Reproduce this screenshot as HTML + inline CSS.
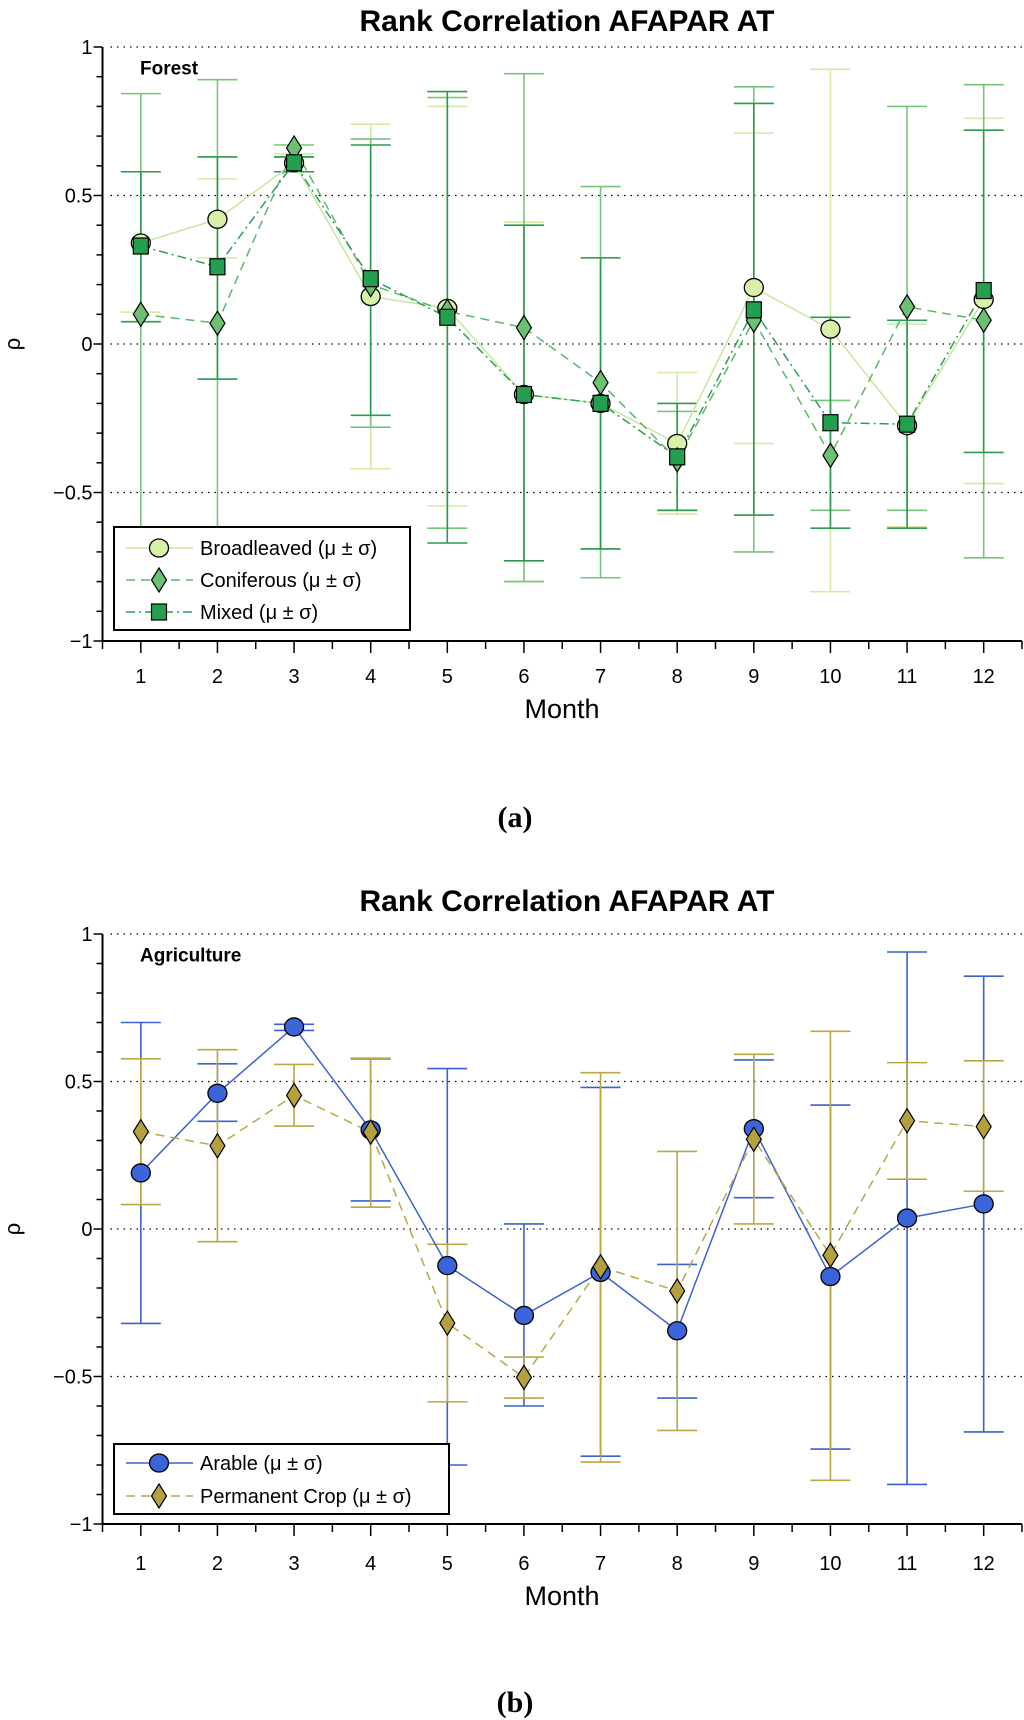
<!DOCTYPE html>
<html><head><meta charset="utf-8"><style>
html,body{margin:0;padding:0;background:#fff;}
svg{display:block;font-family:"Liberation Sans",sans-serif;}
</style></head><body>
<svg id="fig" width="1024" height="1720" viewBox="0 0 1024 1720" xmlns="http://www.w3.org/2000/svg"></svg>
<script>
const months = [1,2,3,4,5,6,7,8,9,10,11,12];
const yTicks = [-1,-0.5,0,0.5,1];
const yTickLabels = ["\u22121","\u22120.5","0","0.5","1"];
// Forest
const broadMean = [0.34,0.42,0.61,0.16,0.12,-0.17,-0.20,-0.335,0.19,0.05,-0.275,0.15];
const broadHi   = [0.58,0.556,0.64,0.74,0.80,0.41,0.29,-0.096,0.71,0.925,0.067,0.76];
const broadLo   = [0.107,0.29,0.58,-0.42,-0.545,-0.80,-0.69,-0.573,-0.335,-0.834,-0.616,-0.47];
const conMean = [0.10,0.07,0.66,0.20,0.11,0.055,-0.13,-0.39,0.08,-0.375,0.125,0.08];
const conHi   = [0.843,0.89,0.67,0.69,0.83,0.91,0.53,-0.227,0.866,-0.19,0.80,0.873];
const conLo   = [-0.65,-0.75,0.63,-0.28,-0.62,-0.80,-0.787,-0.56,-0.70,-0.56,-0.56,-0.72];
const mixMean = [0.33,0.26,0.61,0.22,0.09,-0.17,-0.20,-0.38,0.115,-0.265,-0.27,0.18];
const mixHi   = [0.58,0.63,0.63,0.67,0.85,0.40,0.29,-0.20,0.81,0.09,0.08,0.72];
const mixLo   = [0.075,-0.118,0.58,-0.24,-0.67,-0.73,-0.69,-0.56,-0.576,-0.62,-0.62,-0.365];
// Agriculture
const arMean = [0.19,0.46,0.685,0.336,-0.124,-0.293,-0.147,-0.345,0.34,-0.161,0.037,0.085];
const arHi   = [0.70,0.56,0.694,0.577,0.544,0.017,0.48,-0.12,0.573,0.42,0.939,0.857];
const arLo   = [-0.32,0.365,0.673,0.095,-0.80,-0.60,-0.77,-0.573,0.106,-0.746,-0.866,-0.688];
const pcMean = [0.33,0.282,0.453,0.328,-0.319,-0.503,-0.128,-0.21,0.304,-0.089,0.367,0.347];
const pcHi   = [0.577,0.608,0.558,0.579,-0.052,-0.434,0.53,0.263,0.592,0.67,0.564,0.57];
const pcLo   = [0.083,-0.043,0.349,0.074,-0.586,-0.573,-0.79,-0.683,0.017,-0.852,0.169,0.128];

const NS="http://www.w3.org/2000/svg";
const svg=document.getElementById('fig');
function mk(tag,attrs,parent,text){const e=document.createElementNS(NS,tag);for(const k in attrs)e.setAttribute(k,attrs[k]);if(text!==undefined)e.textContent=text;(parent||svg).appendChild(e);return e;}
const X0=102.5,X1=1022;
function xs(m){return X0+(m-0.5)*(X1-X0)/12;}

function marker(g,type,cx,cy,fill){
  if(type==='circle')return mk('ellipse',{cx:cx,cy:cy,rx:9.5,ry:9,fill:fill,stroke:'#000','stroke-width':1.3},g);
  if(type==='diamond')return mk('polygon',{points:`${cx},${cy-12} ${cx+7.5},${cy} ${cx},${cy+12} ${cx-7.5},${cy}`,fill:fill,stroke:'#000','stroke-width':1.2},g);
  return mk('rect',{x:cx-7.5,y:cy-8,width:15,height:16,fill:fill,stroke:'#000','stroke-width':1.2},g);
}

function panel(name,yTop,yBot,title,titleY,label,series,legend,monthY,tagText,tagY){
  const ys=v=>yTop+(1-v)*(yBot-yTop)/2;
  const g=mk('g',{});
  
  
  const t=mk('text',{x:567,y:titleY,'text-anchor':'middle','font-size':30,'font-weight':'bold',fill:'#000'},g,title);
  
  
  [1,0.5,0,-0.5].forEach(v=>{
    const l=mk('line',{x1:X0+8,x2:X1,y1:ys(v),y2:ys(v),stroke:'#000','stroke-width':1.2,'stroke-dasharray':'1.5,5'},g);
    
    
  });
  const ya=mk('line',{x1:X0,x2:X0,y1:yTop,y2:yBot,stroke:'#000','stroke-width':2},g);
  
  
  const xa=mk('line',{x1:X0,x2:X1,y1:yBot,y2:yBot,stroke:'#000','stroke-width':2},g);
  
  
  for(let i=0;i<=20;i++){const v=-1+i*0.1;const maj=(i%5===0);
    mk('line',{x1:X0-(maj?9:6),x2:X0,y1:ys(v),y2:ys(v),stroke:'#000','stroke-width':1.5},g);}
  yTicks.forEach((v,i)=>{const tl=mk('text',{x:X0-10,y:ys(v)+7,'text-anchor':'end','font-size':20,fill:'#000'},g,yTickLabels[i]);
    
    });
  for(let k=0;k<=24;k++){const m=0.5+k*0.5;const maj=(k%2===1);
    mk('line',{x1:xs(m),x2:xs(m),y1:yBot,y2:yBot+(maj?12:8),stroke:'#000','stroke-width':1.5},g);}
  months.forEach(m=>{const tl=mk('text',{x:xs(m),y:monthY,'text-anchor':'middle','font-size':20,fill:'#000'},g,String(m));
    
    });
  const xt=mk('text',{x:562,y:monthY+35,'text-anchor':'middle','font-size':27,fill:'#000'},g,'Month');
  
  
  const yt=mk('text',{x:20,y:ys(0),'text-anchor':'middle','font-size':22,fill:'#000',transform:`rotate(-90 20 ${ys(0)})`},g,'\u03c1');
  
  
  const lb=mk('text',{x:140,y:ys(0.9)-2,'font-size':19,'font-weight':'bold',fill:'#000'},g,label);
  
  
  series.forEach(s=>{
    const sg=mk('g',{},g);
    
    
    months.forEach((m,i)=>{const x=xs(m);
      const eb=mk('path',{d:`M${x-20},${ys(s.hi[i])}H${x+20}M${x-20},${ys(s.lo[i])}H${x+20}M${x},${ys(s.hi[i])}V${ys(s.lo[i])}`,stroke:s.bar,'stroke-width':1.6,fill:'none'},sg);
      
      });
  });
  series.forEach(s=>{
    const d=months.map((m,i)=>(i?'L':'M')+xs(m)+','+ys(s.mean[i])).join('');
    const ln=mk('path',{d:d,stroke:s.line,'stroke-width':1.5,fill:'none','stroke-dasharray':s.dash||'none'},g);
    
    
  });
  series.forEach(s=>{
    months.forEach((m,i)=>{const mm=marker(g,s.mk,xs(m),ys(s.mean[i]),s.fill);
      
      });
  });
  const lg=mk('g',{},g);
  
  
  mk('rect',{x:legend.x,y:legend.y,width:legend.w,height:legend.h,fill:'#fff',stroke:'#000','stroke-width':2},lg);
  series.forEach((s,i)=>{const yy=legend.rows[i];
    const e=mk('g',{},lg);
    
    
    mk('line',{x1:126,x2:193,y1:yy,y2:yy,stroke:s.line,'stroke-width':1.5,'stroke-dasharray':s.dash||'none'},e);
    marker(e,s.mk,159,yy,s.fill);
    mk('text',{x:200,y:yy+7,'font-size':20,fill:'#000'},e,s.label+' (\u03bc \u00b1 \u03c3)');
  });
  const tg=mk('text',{x:515,y:tagY,'text-anchor':'middle','font-size':30,'font-weight':'bold','font-family':'Liberation Serif, serif',fill:'#000'},g,tagText);
  
  
}

panel('forest-chart',47,641,'Rank Correlation AFAPAR AT',31,'Forest',[
  {name:'broadleaved',label:'Broadleaved',mean:broadMean,hi:broadHi,lo:broadLo,bar:'#d3eca5',line:'#c8e6a0',fill:'#d8f0a8',mk:'circle'},
  {name:'coniferous',label:'Coniferous',mean:conMean,hi:conHi,lo:conLo,bar:'#78c47c',line:'#5cb868',fill:'#6cc074',mk:'diamond',dash:'9,6'},
  {name:'mixed',label:'Mixed',mean:mixMean,hi:mixHi,lo:mixLo,bar:'#2a9a4e',line:'#2aa055',fill:'#22a050',mk:'square',dash:'9,4,2,4'}
],{x:114,y:527,w:296,h:103,rows:[548,580,612]},683,'(a)',827);

panel('agriculture-chart',934,1524,'Rank Correlation AFAPAR AT',911,'Agriculture',[
  {name:'arable',label:'Arable',mean:arMean,hi:arHi,lo:arLo,bar:'#3c62d0',line:'#3c62d0',fill:'#3a64d8',mk:'circle'},
  {name:'permanent-crop',label:'Permanent Crop',mean:pcMean,hi:pcHi,lo:pcLo,bar:'#bba845',line:'#bba845',fill:'#b5a040',mk:'diamond',dash:'9,6'}
],{x:114,y:1444,w:335,h:70,rows:[1463,1496]},1570,'(b)',1712);
</script>
</body></html>
